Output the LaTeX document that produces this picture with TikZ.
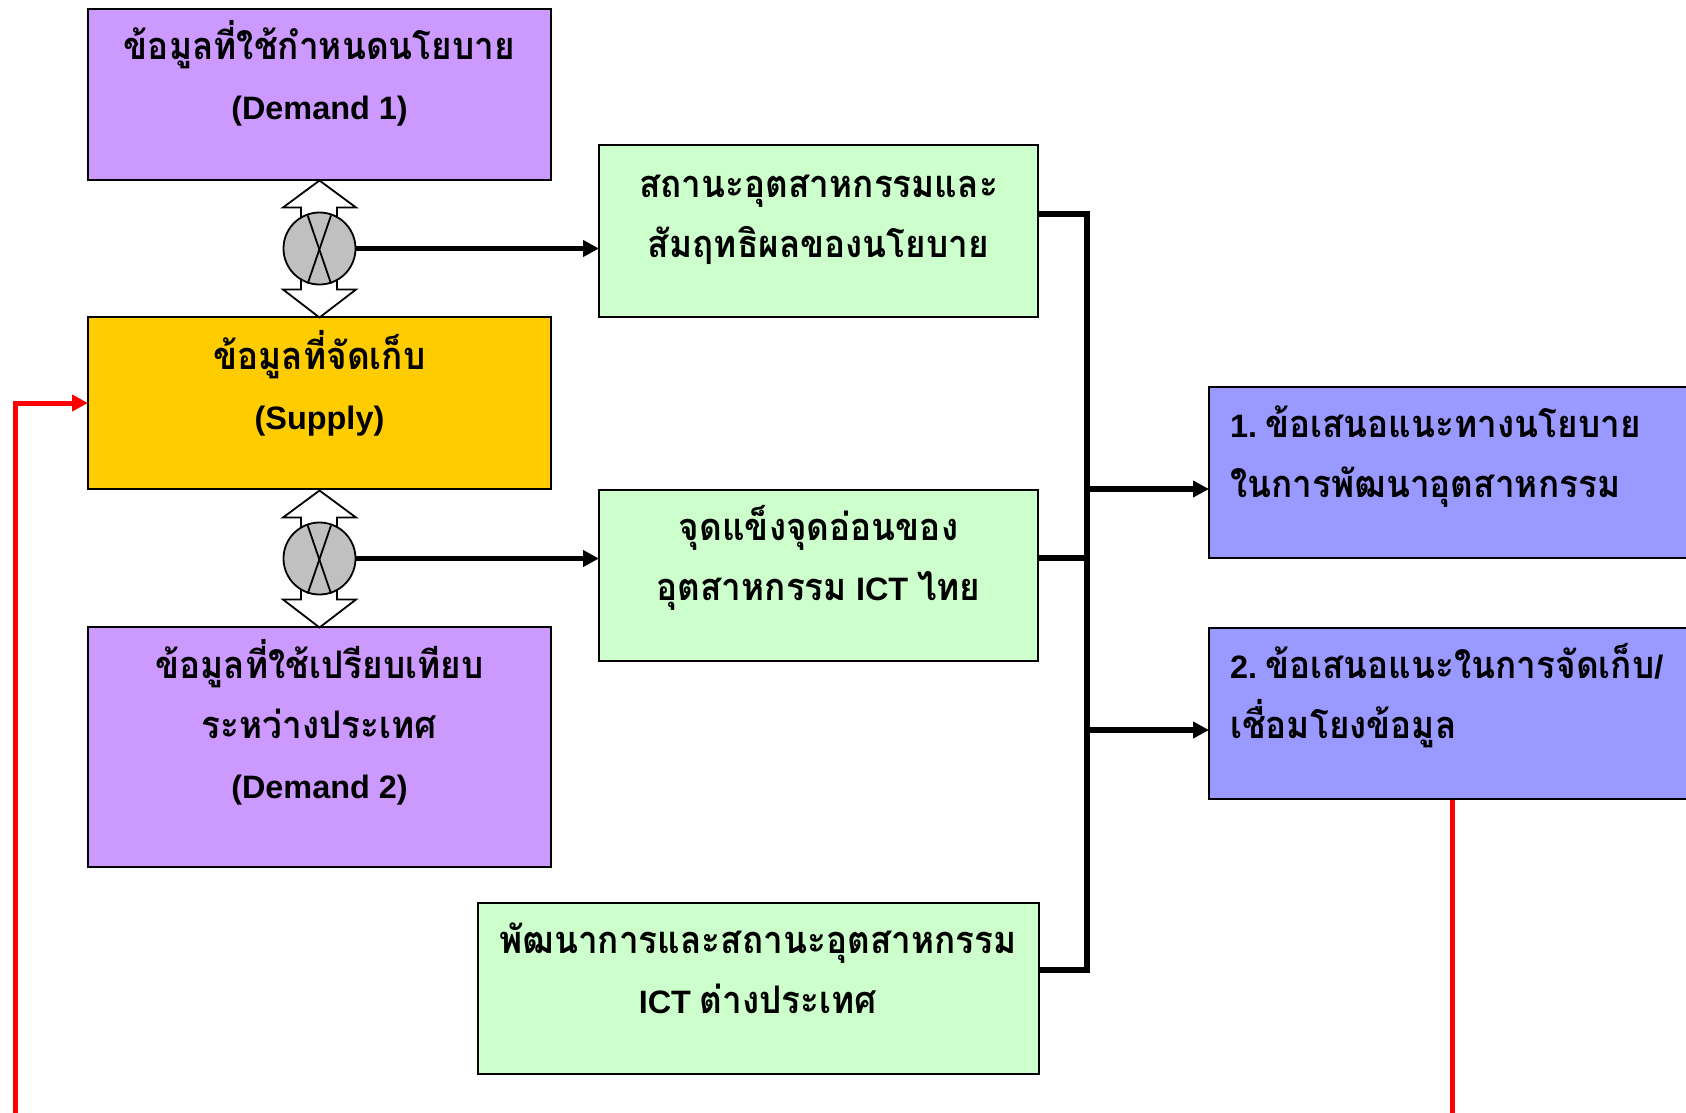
\documentclass[tikz,border=0pt]{standalone}
\usepackage{fontspec}
\usepackage{tikz}
\usetikzlibrary{arrows.meta}
\setmainfont{Liberation Sans}
\newfontfamily\thaifont[Script=Thai,FakeStretch=0.925]{Loma}
\newcommand{\thtext}[1]{{\thaifont\bfseries\fontsize{38}{60}\selectfont #1}}
\definecolor{purplebox}{HTML}{CC99FF}
\definecolor{goldbox}{HTML}{FFCC00}
\definecolor{greenbox}{HTML}{CCFFCC}
\definecolor{bluebox}{HTML}{9999FF}
\definecolor{mixgray}{HTML}{C0C0C0}
\tikzset{
  infobox/.style={draw=black,line width=2pt,inner sep=0pt,align=center,
    font=\fontsize{32.4}{60}\selectfont\bfseries},
  resultbox/.style={infobox,fill=bluebox,align=left,text width=449pt,inner xsep=21pt},
  mixnode/.style={circle,draw=black,fill=mixgray,line width=1.8pt,minimum size=72pt,inner sep=0pt},
  link/.style={line width=5.5pt,draw=black},
  linkarrow/.style={link,shorten >=-1pt,-{Triangle[length=16pt,width=16pt]}},
  backarrow/.style={line width=5pt,draw=red,shorten >=-1pt,-{Triangle[length=16pt,width=16pt]}}
}
\begin{document}
\begin{tikzpicture}[x=1pt,y=-1pt,join=miter] % data flow between the boxes
        \path[use as bounding box,clip] (0,0) rectangle (1686,1112);
        \fill[white] (0,0) rectangle (1686,1112);
        \node[infobox,fill=purplebox,minimum width=463pt,minimum height=171pt] (demandone) at (319.5,94) {\thtext{ข้อมูลที่ใช้กำหนดนโยบาย}\\(Demand 1)\\[-12pt]~};
        \node[infobox,fill=goldbox,minimum width=463pt,minimum height=172pt] (supply) at (319.5,403) {\thtext{ข้อมูลที่จัดเก็บ}\\(Supply)\\[-13pt]~};
        \node[infobox,fill=purplebox,minimum width=463pt,minimum height=240pt] (demandtwo) at (319.5,747) {\thtext{ข้อมูลที่ใช้เปรียบเทียบ}\\\thtext{ระหว่างประเทศ}\\(Demand 2)\\[-3pt]~};
        \node[infobox,fill=greenbox,minimum width=439pt,minimum height=172pt] (statusbox) at (818.5,231) {\thtext{สถานะอุตสาหกรรมและ}\\\thtext{สัมฤทธิผลของนโยบาย}\\[-30pt]~};
        \node[infobox,fill=greenbox,minimum width=439pt,minimum height=171pt] (swotbox) at (818.5,575) {\thtext{จุดแข็งจุดอ่อนของ}\\\thtext{อุตสาหกรรม} ICT \thtext{ไทย}\\[-15pt]~};
        \node[infobox,fill=greenbox,minimum width=561pt,minimum height=171pt] (abroadbox) at (758,988) {\thtext{พัฒนาการและสถานะอุตสาหกรรม}\\ICT \thtext{ต่างประเทศ}\\[-21pt]~};
        \node[resultbox,minimum height=171pt] (policybox) at (1454.5,472) {1.\kern8pt\thtext{ข้อเสนอแนะทางนโยบาย}\\\thtext{ในการพัฒนาอุตสาหกรรม}\\[-20pt]~};
        \node[resultbox,minimum height=171pt] (storebox) at (1454.5,713) {2.\kern8pt\thtext{ข้อเสนอแนะในการจัดเก็บ}/\\\thtext{เชื่อมโยงข้อมูล}\\[-16pt]~};
        % block arrows with the mixing circles
        \foreach \cy/\name in {248.5/mixa,558.5/mixb} {
                \filldraw[fill=white,line width=1.8pt] (319.5,\cy-68)--(356,\cy-41)--(337,\cy-41)--(337,\cy+41)--(356,\cy+41)--(319.5,\cy+69)--(283,\cy+41)--(301,\cy+41)--(301,\cy-41)--(283,\cy-41)--cycle;
                \node[mixnode] (\name) at (319.5,\cy) {};
                \draw[line width=1.8pt] (307.7,\cy-33)--(331,\cy+35);
                \draw[line width=1.8pt] (331,\cy-33)--(307.7,\cy+35);
        }
        \coordinate (trunktop) at (1087,214);
        \coordinate (trunkmid) at (1087,558);
        \coordinate (trunkone) at (1087,489);
        \coordinate (trunktwo) at (1087,730);
        \coordinate (trunkend) at (1087,970);
        \draw[link] (statusbox.east |- trunktop)--(trunktop)--(trunkend)--(abroadbox.east |- trunkend);
        \draw[link] (swotbox.east |- trunkmid)--(trunkmid);
        \draw[linkarrow] (trunkone)--(policybox.west |- trunkone);
        \draw[linkarrow] (trunktwo)--(storebox.west |- trunktwo);
        \draw[linkarrow] (mixa)--(statusbox.west |- mixa);
        \draw[linkarrow] (mixb)--(swotbox.west |- mixb);
        % red line runs out of the page at the bottom
        \coordinate (redright) at (1452,1125);
        \coordinate (redleft) at (15,1125);
        \draw[backarrow] (storebox.south -| redright)--(redright)--(redleft)--(redleft |- supply.west)--(supply.west);
\end{tikzpicture}
\end{document}
